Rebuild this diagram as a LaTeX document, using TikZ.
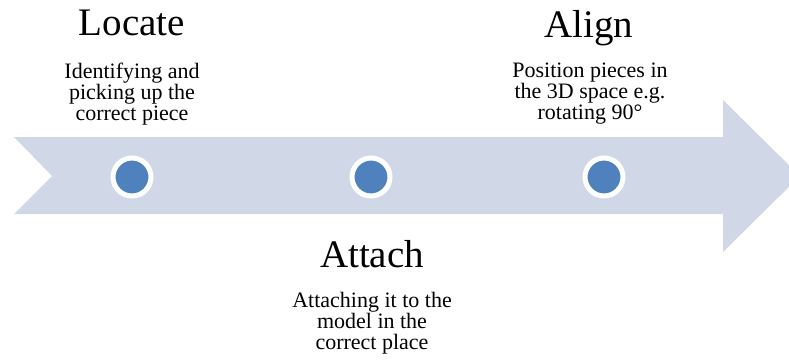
\documentclass[tikz,border=0pt]{standalone}
\usepackage{fontspec}
\setmainfont{Liberation Serif}
\definecolor{shaft}{HTML}{D0D8E8}
\definecolor{dot}{HTML}{4F81BD}
\begin{document}
\begin{tikzpicture}[x=1pt,y=-1pt,
  stepdot/.style={circle,fill=dot,draw=white,line width=5pt,minimum size=38pt,inner sep=0pt},
  title/.style={anchor=base,inner sep=0pt,font=\fontsize{39}{42}\selectfont},
  desc/.style={anchor=base,inner sep=0pt,align=center,font=\fontsize{22}{21}\selectfont}]
  \useasboundingbox (0,0) rectangle (789,360);
  % the timeline arrow, notched at the tail
  \begin{scope}
    \clip (0,0) rectangle (789,360);
    \fill[shaft] (14,137) -- (723,137) -- (723,100) -- (800,176) -- (723,252)
      -- (723,214) -- (14,214) -- (52,176) -- cycle;
  \end{scope}
  % milestones
  \node[stepdot] (d1) at (132,177) {};
  \node[stepdot] (d2) at (371,177) {};
  \node[stepdot] (d3) at (604,177) {};
  % labels (a multi-line label sits on the baseline of its last line)
  \node[title] (t1) at (132,35) {Locate};
  \node[desc]  (s1) at (132,120) {Identifying and\\picking up the\\correct piece};
  \node[title] (t3) at (589,37) {Align};
  \node[desc]  (s3) at (590,119) {Position pieces in\\the 3D space e.g.\\rotating 90°};
  \node[title] (t2) at (372,267) {Attach};
  \node[desc]  (s2) at (372,349) {Attaching it to the\\model in the\\correct place};
\end{tikzpicture}
\end{document}
